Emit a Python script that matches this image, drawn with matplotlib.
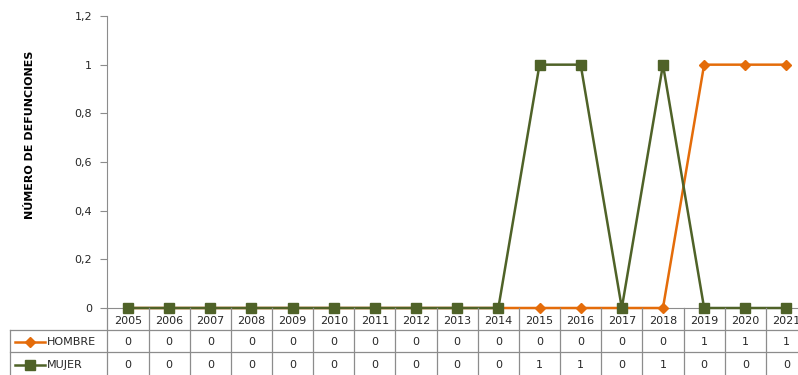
import matplotlib
matplotlib.use("Agg")
import matplotlib.pyplot as plt
from matplotlib.lines import Line2D
from matplotlib.transforms import blended_transform_factory

years = [str(y) for y in range(2005, 2022)]
hombre = [0, 0, 0, 0, 0, 0, 0, 0, 0, 0, 0, 0, 0, 0, 1, 1, 1]
mujer = [0, 0, 0, 0, 0, 0, 0, 0, 0, 0, 1, 1, 0, 1, 0, 0, 0]
y_ticks = [0, 0.2, 0.4, 0.6, 0.8, 1.0, 1.2]
y_tick_labels = ["0", "0,2", "0,4", "0,6", "0,8", "1", "1,2"]

C_H = "#E46C0A"
C_M = "#4F6228"
GRID = "#8C8C8C"
TXT = "#262626"

W, H = 798, 375
fig = plt.figure(figsize=(W / 100, H / 100), dpi=100)
plt.rcParams["font.family"] = ["DejaVu Sans"]

# plot area in pixels (the right edge runs past the canvas)
left, right, top, bottom = 107.4, 807.0, 16.0, 308.0
ax = fig.add_axes([left / W, 1 - bottom / H, (right - left) / W, (bottom - top) / H])
ax.set_facecolor("none")

x = list(range(len(years)))
ax.plot(x, hombre, color=C_H, lw=1.8, marker="D", ms=5.5, mec=C_H, mfc=C_H,
        clip_on=False, zorder=3)
ax.plot(x, mujer, color=C_M, lw=1.8, marker="s", ms=6.5, mec=C_M, mfc=C_M,
        clip_on=False, zorder=4)

ax.set_xlim(-0.5, len(years) - 0.5)
ax.set_ylim(0, 1.2)
ax.set_yticks(y_ticks)
ax.set_yticklabels(y_tick_labels, fontsize=8, color=TXT)
ax.tick_params(axis="y", direction="out", length=5, color=GRID, pad=6)
ax.set_xticks([])
for s in ["top", "right"]:
    ax.spines[s].set_visible(False)
ax.spines["left"].set_color(GRID)
ax.spines["bottom"].set_color(GRID)

fig.text(30 / W, 1 - 135 / H, "NÚMERO DE DEFUNCIONES", rotation=90, fontsize=8,
         fontweight="bold", color="black", ha="center", va="center")

# data table under the plot
tr = blended_transform_factory(ax.transData, fig.transFigure)

def fy(py):
    return 1 - py / H

for i in range(len(years) + 1):
    fig.add_artist(Line2D([i - 0.5, i - 0.5], [fy(308), fy(376)], transform=tr,
                          color=GRID, lw=0.9))
for yy in (330, 352):
    fig.add_artist(Line2D([10 / W, 1], [fy(yy), fy(yy)], transform=fig.transFigure,
                          color=GRID, lw=0.9))
fig.add_artist(Line2D([10 / W, 10 / W], [fy(330), fy(376)], transform=fig.transFigure,
                      color=GRID, lw=0.9))

for i, yr in enumerate(years):
    fig.text(i, fy(321), yr, transform=tr, ha="center", va="center", fontsize=8, color=TXT)
    fig.text(i, fy(342), str(hombre[i]), transform=tr, ha="center", va="center",
             fontsize=8, color=TXT)
    fig.text(i, fy(365), str(mujer[i]), transform=tr, ha="center", va="center",
             fontsize=8, color=TXT)

# legend keys inside the table
for name, col, mk, ms, yy in (("HOMBRE", C_H, "D", 5.5, 342), ("MUJER", C_M, "s", 6.5, 365)):
    fig.add_artist(Line2D([15 / W, 45 / W], [fy(yy), fy(yy)], transform=fig.transFigure,
                          color=col, lw=1.8))
    fig.add_artist(Line2D([30 / W], [fy(yy)], transform=fig.transFigure, color=col,
                          marker=mk, ms=ms, mfc=col, mec=col, lw=0))
    fig.text(47 / W, fy(yy), name, ha="left", va="center", fontsize=8, color=TXT)

fig.savefig("out.png", dpi=100)
